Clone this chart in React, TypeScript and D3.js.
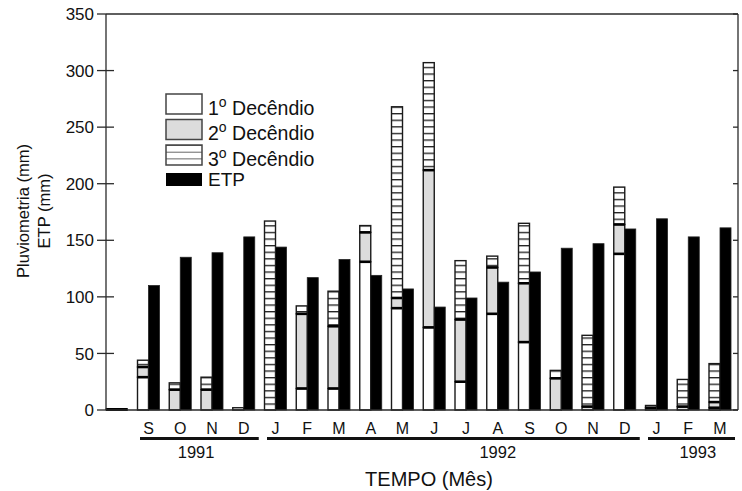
import React from 'react';
import * as d3 from 'd3';

const months = ['', 'S', 'O', 'N', 'D', 'J', 'F', 'M', 'A', 'M', 'J', 'J', 'A', 'S', 'O', 'N', 'D', 'J', 'F', 'M'];
const dec1 = [0, 29, 0, 0, 2, 0, 19, 19, 131, 90, 73, 25, 85, 60, 0, 0, 138, 0, 0, 2];
const dec2 = [0, 9, 18, 18, 0, 0, 66, 55, 26, 9, 139, 55, 41, 52, 28, 3, 26, 2, 3, 5];
const dec3 = [0, 6, 6, 11, 0, 167, 7, 31, 6, 169, 95, 52, 10, 53, 7, 63, 33, 2, 24, 34];
const etp = [0, 110, 135, 139, 153, 144, 117, 133, 119, 107, 91, 99, 113, 122, 143, 147, 160, 169, 153, 161];
const yTicks = [0, 50, 100, 150, 200, 250, 300, 350];
const years = [
  { label: '1991', from: 1, to: 4, at: 2.5 },
  { label: '1992', from: 5, to: 16, at: 12 },
  { label: '1993', from: 17, to: 19, at: 18.3 },
];
const legendItems = ['1', '2', '3'];

const FONT = '"Liberation Sans", Arial, Helvetica, sans-serif';

export default function App() {
  const W = 742, H = 491;
  const left = 106, right = 738, top = 14, bottom = 410;
  const idx = d3.range(months.length);
  const x = d3.scaleBand<number>().domain(idx).range([100.88, 735.88]).paddingInner(0.307).paddingOuter(0.1535);
  const bw = x.bandwidth();
  const sub = d3.scaleBand<string>().domain(['rain', 'etp']).range([0, bw]).paddingInner(0);
  const y = d3.scaleLinear().domain([0, 350]).range([bottom, top]);
  const step = x.step();
  const center = (i: number) => (x(Math.floor(i)) as number) + bw / 2 + (i - Math.floor(i)) * step;

  const table = idx.map(i => ({ i, d1: dec1[i], d2: dec2[i], d3: dec3[i] }));
  const stacked = d3.stack<any>().keys(['d1', 'd2', 'd3'])(table);
  const fills: Record<string, string> = { d1: '#ffffff', d2: '#dcdcdc', d3: 'url(#hatch)' };
  const stroke = '#1a1a1a';

  return (
    <svg width={W} height={H} style={{ position: 'absolute', left: 0, top: 0, background: '#fff' }} fontFamily={FONT}>
      <defs>
        <pattern id="hatch" patternUnits="userSpaceOnUse" width={8} height={6.6} y={bottom}>
          <rect width={8} height={6.6} fill="#fff" />
          <line x1={0} x2={8} y1={0.6} y2={0.6} stroke="#222" strokeWidth={1.5} />
        </pattern>
        <pattern id="hatchL" patternUnits="userSpaceOnUse" width={8} height={6.7} y={145}>
          <rect width={8} height={6.7} fill="#fff" />
          <line x1={0} x2={8} y1={0} y2={0} stroke="#333" strokeWidth={1.5} />
        </pattern>
      </defs>
      <rect width={W} height={H} fill="#fff" />

      {/* rain stacked bars */}
      {stacked.map(layer =>
        layer.map((d, j) => {
          const v = d[1] - d[0];
          if (v <= 0) return null;
          const bx = (x(j) as number) + (sub('rain') as number);
          return (
            <rect key={layer.key + j} x={bx} y={y(d[1])} width={sub.bandwidth()} height={y(d[0]) - y(d[1])}
              fill={fills[layer.key]} stroke={stroke} strokeWidth={1.4} />
          );
        })
      )}
      {/* thick segment boundaries */}
      {idx.map(i => {
        const total = dec1[i] + dec2[i] + dec3[i];
        const bx = (x(i) as number) + (sub('rain') as number);
        const lines: number[] = [];
        if (dec1[i] > 0 && dec1[i] < total) lines.push(dec1[i]);
        if (dec2[i] > 0 && dec1[i] + dec2[i] < total) lines.push(dec1[i] + dec2[i]);
        return lines.map((v, k) => (
          <line key={'b' + i + k} x1={bx} x2={bx + sub.bandwidth()} y1={y(v)} y2={y(v)} stroke="#000" strokeWidth={2.6} />
        ));
      })}
      {/* ETP bars */}
      {idx.map(i => (
        <rect key={'e' + i} x={(x(i) as number) + (sub('etp') as number)} y={y(etp[i])} width={sub.bandwidth()}
          height={y(0) - y(etp[i])} fill="#000" stroke="#222" strokeWidth={0.8} />
      ))}
      {/* zero bars */}
      {idx.filter(i => dec1[i] + dec2[i] + dec3[i] === 0 && etp[i] === 0).map(i => (
        <line key={'z' + i} x1={x(i) as number} x2={(x(i) as number) + bw} y1={bottom - 0.5} y2={bottom - 0.5} stroke="#000" strokeWidth={3} />
      ))}

      {/* frame */}
      <g stroke="#2a2a2a" strokeWidth={1.3} fill="none">
        <line x1={left} x2={right} y1={top} y2={top} />
        <line x1={left} x2={right} y1={bottom} y2={bottom} />
        <line x1={left} x2={left} y1={top} y2={bottom} />
        <line x1={right} x2={right} y1={top} y2={bottom} />
        {yTicks.map(t => (
          <g key={t}>
            <line x1={97} x2={t === 0 || t === 350 ? left : 114} y1={y(t)} y2={y(t)} />
            <line x1={right - 5} x2={right} y1={y(t)} y2={y(t)} />
          </g>
        ))}
      </g>
      {yTicks.map(t => (
        <text key={'t' + t} x={94} y={y(t)} dy="0.36em" textAnchor="end" fontSize={17} fill="#111">{t}</text>
      ))}

      {/* y title */}
      <text transform="translate(29,211) rotate(-90)" textAnchor="middle" fontSize={16.5} fill="#111">Pluviometria (mm)</text>
      <text transform="translate(50,211) rotate(-90)" textAnchor="middle" fontSize={16.5} fill="#111">ETP (mm)</text>

      {/* month labels */}
      {idx.map(i => months[i] ? (
        <text key={'m' + i} x={center(i)} y={434} textAnchor="middle" fontSize={16} fill="#111">{months[i]}</text>
      ) : null)}
      {/* year groups */}
      {years.map(g => {
        const x1 = (x(g.from) as number) + 2.5;
        const x2 = (x(g.to) as number) + bw + 4;
        return (
          <g key={g.label}>
            <line x1={x1} x2={x2} y1={438.5} y2={438.5} stroke="#111" strokeWidth={3} />
            <text x={center(g.at)} y={457.5} textAnchor="middle" fontSize={16.5} fill="#111">{g.label}</text>
          </g>
        );
      })}
      <text x={429} y={486} textAnchor="middle" fontSize={20} fill="#111">TEMPO (Mês)</text>

      {/* legend */}
      {legendItems.map((n, k) => {
        const by = [94, 119.5, 145][k];
        const fill = ['#ffffff', '#dcdcdc', 'url(#hatchL)'][k];
        return (
          <g key={'l' + n}>
            <rect x={166} y={by} width={36} height={20} fill={fill} stroke="#444" strokeWidth={1.5} />
            <text x={208} y={by + 20.5} fontSize={19.5} fill="#111">
              {n}<tspan dy={-8} fontSize={14}>o</tspan><tspan dy={8}> Decêndio</tspan>
            </text>
          </g>
        );
      })}
      <rect x={166} y={173} width={36} height={13} fill="#000" />
      <text x={208} y={186} fontSize={19} fill="#111">ETP</text>
    </svg>
  );
}
